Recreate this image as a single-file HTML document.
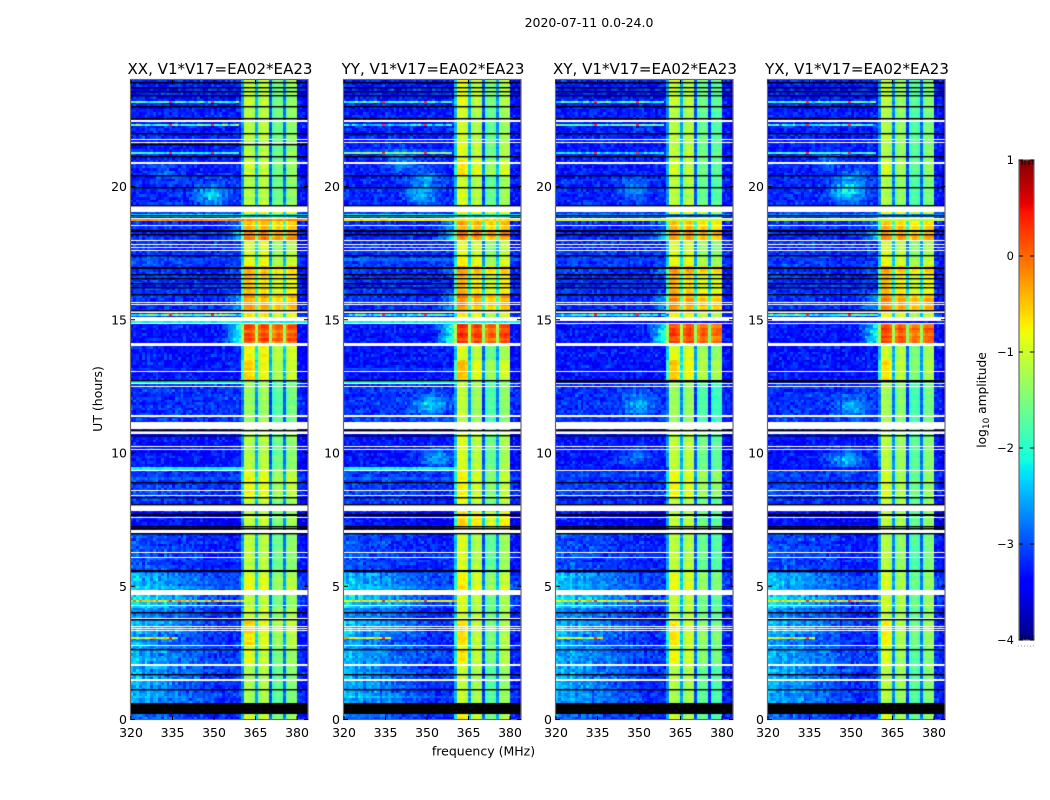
<!DOCTYPE html>
<html lang="en">
<head>
<meta charset="utf-8">
<title>2020-07-11 0.0-24.0</title>
<style>
html,body{margin:0;padding:0;background:#fff;}
#figure{position:relative;width:1050px;height:800px;overflow:hidden;background:#fff;font-family:"DejaVu Sans","Liberation Sans",sans-serif;}
#figure canvas{position:absolute;display:block;}
#overlay{position:absolute;left:0;top:0;}
#overlay text{font-family:"DejaVu Sans","Liberation Sans",sans-serif;fill:#000;}
</style>
</head>
<body>
<div id="figure">
<canvas id="heat0" width="177" height="640" style="left:131px;top:80px"></canvas>
<canvas id="heat1" width="177" height="640" style="left:344px;top:80px"></canvas>
<canvas id="heat2" width="177" height="640" style="left:556px;top:80px"></canvas>
<canvas id="heat3" width="177" height="640" style="left:768px;top:80px"></canvas>
<canvas id="cbar" width="15" height="480" style="left:1019px;top:160px"></canvas>
<svg id="overlay" width="1050" height="800" xmlns="http://www.w3.org/2000/svg">
<text x="589" y="27" font-size="12.5" text-anchor="middle">2020-07-11 0.0-24.0</text>
<text x="483.500" y="755.500" font-size="12.5" text-anchor="middle">frequency (MHz)</text>
<text x="0" y="0" font-size="12.5" text-anchor="middle" transform="translate(102,399) rotate(-90)">UT (hours)</text>
<text x="0" y="0" font-size="12.2" text-anchor="middle" transform="translate(986,400) rotate(-90)">log<tspan font-size="9" dy="3">10</tspan><tspan dy="-3"> amplitude</tspan></text>
</svg>
</div>
<script>
/* ---------- axes data ---------- */
const panelTitles = ["XX, V1*V17=EA02*EA23","YY, V1*V17=EA02*EA23","XY, V1*V17=EA02*EA23","YX, V1*V17=EA02*EA23"];
const freqTicks = [320,335,350,365,380];
const hourTicks = [0,5,10,15,20];
const colorbarTicks = [1,0,-1,-2,-3,-4];

/* ---------- time segments: log10 amplitude ---------- */
const segmentStartUT = [0,0.65,1.1,1.5,2.05,2.6,2.8,3.25,3.7,4.2,4.85,5.55,6.99,7.85,8.35,9.45,11.15,12.7,13.5,14.1,14.95,15.35,16.0,16.73,16.98,17.45,18.0,18.35,18.95,19.3,20.45,21.0,22.0,23.0];
const segmentBackground = [-3.2,-3.15,-3.2,-3.15,-3.1,-3.1,-3.2,-3.15,-3.2,-3.05,-3.05,-3.25,-3.45,-3.2,-3.15,-3.3,-3.15,-3.3,-3.3,-3.3,-3.15,-3.2,-3.2,-3.2,-3.15,-3.15,-3.2,-3.2,-3.05,-3.2,-3.25,-3.25,-3.25,-3.25];
const segmentLowFreqBoost = [0.4,0.7,0.75,0.75,0.65,0.6,0.65,0.8,0.6,0.9,0.7,0.3,0.15,0.1,0.1,0,0,0,0,0,0.05,0.1,0.1,0.1,0.1,0,0,0,0,0,0,0,0,0];
const segmentFirstBandExcess = [0.15,0,0,0,0.2,0,0.3,0.3,0,0,0.1,0.05,0,0,0.1,0,0,0.3,0,0,0,0.1,0.2,0.1,0,0,0,0,0,0,0.1,0,0,0.05];
const bandXX = [-1.05,-1.25,-1.2,-1.2,-1.1,-1.0,-0.95,-0.85,-1.0,-1.1,-0.95,-1.15,-1.05,-1.05,-0.9,-1.15,-1.3,-0.85,-0.8,0.15,-0.7,-0.35,-0.65,-0.45,-0.85,-0.95,-0.2,-0.45,-0.75,-1.15,-1.1,-1.15,-1.15,-1.1];
const bandYY = [-1.0,-1.15,-1.15,-1.15,-1.0,-1.0,-1.0,-1.0,-1.05,-1.05,-0.9,-1.1,-0.65,-1.0,-0.95,-1.05,-1.2,-0.85,-1.05,0.25,-0.8,-0.3,-0.65,-0.45,-0.85,-0.95,-0.15,-0.35,-0.8,-1.1,-0.85,-1.05,-1.1,-1.0];
const bandXY = [-1.2,-1.2,-1.2,-1.15,-1.0,-1.05,-0.95,-1.0,-1.1,-1.1,-0.95,-1.15,-1.1,-1.1,-0.9,-1.1,-1.3,-0.8,-0.9,0.2,-0.7,-0.3,-0.6,-0.4,-0.85,-0.95,-0.2,-0.45,-0.8,-1.15,-1.1,-1.1,-1.15,-1.1];
const bandYX = [-1.1,-1.15,-1.15,-1.15,-1.15,-1.1,-1.05,-1.05,-1.1,-1.05,-1.05,-1.2,-1.1,-1.1,-1.05,-1.15,-1.25,-0.95,-1.0,0.15,-0.8,-0.3,-0.65,-0.45,-0.85,-0.95,-0.2,-0.45,-0.8,-1.2,-1.1,-1.15,-1.2,-1.15];
const bandByPanel = [bandXX,bandYY,bandXY,bandYX];

/* ---------- per-panel sub-band gains (four sub-bands) ---------- */
const subbandGainXX = [0,0.05,-0.4,-0.25];
const subbandGainYY = [0.1,-0.05,-0.55,-0.2];
const subbandGainXY = [0,0,-0.45,-0.6];
const subbandGainYX = [0,-0.15,-0.55,-0.3];
const subbandGains = [subbandGainXX,subbandGainYY,subbandGainXY,subbandGainYX];

/* channel shape across the band, channels 40..59 (dips at sub-band joins) */
const bandShape = [-1.5,0,0.03,0,-0.12,-1.4,-0.25,0,0.03,-0.08,-1.4,-0.2,0,0.03,-0.08,-1.4,-0.2,0,0.03,0];

/* vertical striping seen at low frequencies in the early hours */
const lowFreqStripes = [1.05,0.85,1.1,0.95,0.7,1.1,1,0.65,0.95,1.1,0.8,1.05,1.15,0.75,1,0.9,1.1,0.7,1,1.05,0.85,1,0.75,1.1,0.9,1,0.8,1,0.9,1];

/* speckle texture of the raw amplitudes */
const speckleA = [0.12,-0.2,0.05,0.28,-0.11,-0.3,0.17,0.02,-0.06,0.24,-0.25,0.09,-0.15,0.31,-0.02,-0.18,0.14,0.07,-0.28,0.21,-0.09,0.03,0.26,-0.22,0.11,-0.04,-0.31,0.19,0.06,-0.13,0.29,-0.17,0.01,0.16,-0.24,0.08,-0.07,0.23,-0.12,-0.27,0.18];
const speckleB = [-0.1,0.15,0.04,-0.22,0.2,-0.05,0.11,-0.16,0.24,0.01,-0.19,0.07,0.17,-0.08,-0.26,0.13,0.03,-0.12,0.22,-0.03,0.09,-0.21,0.18,-0.14,0.06,0.25,-0.07,-0.18,0.1,0.02,-0.24,0.16,-0.01,0.12,-0.09,0.21,-0.15];
const rowJitter = [0.06,-0.1,0.02,0.12,-0.05,-0.14,0.09,0,-0.08,0.13,-0.03,0.07,-0.12,0.04,0.1,-0.06,-0.11,0.08,0.01];

/* narrow RFI rows: hour, last channel, thickness (hours), spike flag and level per product */
const rfiHours = [23.19,22.32,21.25,18.9,18.75,15.18,14.92,12.65,9.42,4.45,3.05];
const rfiChannels = [38,38,38,64,64,40,64,40,40,40,16];
const rfiThickness = [0.06,0.06,0.06,0.1,0.07,0.06,0.11,0.12,0.1,0.06,0.06];
const rfiHasSpikes = [1,1,1,0,0,1,0,0,0,1,1];
const rfiXX = [-1.9,-1.8,-2.2,-2.2,-0.2,-1.7,-2.15,-2.1,-2.15,-0.7,-0.9];
const rfiYY = [-1.9,-2.3,-1.8,-2.1,-0.7,-2.1,-2.15,-2.1,-2.15,-0.8,-0.8];
const rfiXY = [-1.9,-1.7,-2.2,-2.7,-1.0,-2.2,-3.3,-3.3,-3.3,-0.8,-1.0];
const rfiYX = [-1.8,-2.0,-1.8,-2.7,-1.1,-1.9,-3.3,-3.3,-3.3,-0.8,-1.0];
const rfiByPanel = [rfiXX,rfiYY,rfiXY,rfiYX];
const rfiSpikeChannels = [14,29];

/* diffuse emission patches */
const blobPanel = [0,0,1,1,1,1,1,2,2,2,3,3,3,3,3];
const blobHour = [19.7,20.5,19.7,20.3,21.0,11.8,9.8,19.9,11.8,9.8,19.8,20.4,21.0,11.7,9.7];
const blobFreq = [348.5,333,347.5,349,340,351,353,348,350,348,348,351,342,350,348];
const blobBoost = [0.9,0.3,0.7,0.55,0.6,0.85,0.65,0.5,0.6,0.4,1.1,0.4,0.4,0.65,0.9];

/* flagged data: white = no data, black = zeroed */
const whiteLines = [21.77,21.67,18.82,18.56,17.99,17.85,17.73,17.6,15.68,15.58,14.87,14.05,13.07,12.62,12.51,10.27,10.15,9.38,8.61,8.42,7.59,6.29,6.1,4.29,3.52,3.44,3.36];
const whiteLinesWide = [22.5,20.91,15.34,14.14,11.43,8.05,2.07];
const whiteBlockStart = [19.05,14.95,10.9,10.7,7.82,6.99,4.67,3.73,2.76,1.46];
const whiteBlockEnd = [19.28,15.09,11.16,10.86,8.0,7.11,4.86,3.79,2.81,1.51];
const blackLines = [23.93,23.75,23.6,23.43,23.02,22.56,22,21.15,20.43,20,19.3,18.93,18.2,17.43,16.73,16.57,16.38,16.23,15.97,15.37,12.74,10.68,10.88,8.93,8.35,8.09,7.26,7.17,6.99,4.02,3.76,2.63,1.72,1.13];
const blackBlockStart = [18.29,16.92,7.62,5.54,0.21];
const blackBlockEnd = [18.37,16.98,7.7,5.62,0.63];
const extraBlackXX = [21.59];
const extraBlackXY = [12.72,15.97];
const extraBlackYX = [12.72];
const extraBlack = [extraBlackXX,[],extraBlackXY,extraBlackYX];

/* ---------- scales ---------- */
const SCALE_X = 2.767, SCALE_Y = 26.65;
const panelLefts = [131,344,556,768];
const PANEL_TOP = 80, PANEL_W = 177, PANEL_H = 640;
function xScale(mhz){ return (mhz-320)*SCALE_X; }
function yScale(hour){ return 639.5-hour*SCALE_Y; }
function cbarScale(v){ return (1-v)*96; }

function ramp(x,pts){
  for(let i=1;i<pts.length;i++){
    if(x<=pts[i][0]){
      const a=pts[i-1],b=pts[i];
      return a[1]+(b[1]-a[1])*(x-a[0])/(b[0]-a[0]);
    }
  }
  return pts[pts.length-1][1];
}
const jetR=[[0,0],[0.35,0],[0.66,1],[0.89,1],[1,0.5]];
const jetG=[[0,0],[0.125,0],[0.375,1],[0.64,1],[0.91,0],[1,0]];
const jetB=[[0,0.5],[0.11,1],[0.34,1],[0.65,0],[1,0]];
function colorOf(v){
  const t=Math.max(0,Math.min(1,(v+4)/5));
  return "rgb("+Math.round(ramp(t,jetR)*255)+","+Math.round(ramp(t,jetG)*255)+","+Math.round(ramp(t,jetB)*255)+")";
}

function segmentOf(hour){
  let s=0;
  for(let i=0;i<segmentStartUT.length;i++){ if(hour>=segmentStartUT[i]) s=i; }
  return s;
}
function speckle(p,r,k){
  return speckleA[(k*17+r*r*5+p*11+k*r*3)%41]+speckleB[(k*k*3+r*11+p*7+k*r)%37];
}
function cellValue(p,r,k){
  const hour=(r+0.5)/10, s=segmentOf(hour);
  const band=bandByPanel[p][s];
  if(k>=40 && k<60){
    const sb=Math.floor((k-40)/5);
    const squeeze=Math.max(0.4,Math.min(1,-band/1.1));
    let v=band+subbandGains[p][sb]*squeeze+bandShape[k-40];
    if(sb===0) v+=segmentFirstBandExcess[s];
    v+=speckle(p,r,k)*0.2+rowJitter[(r+p*3)%19]*(band>-0.4?1.2:0.6);
    return v;
  }
  let v=segmentBackground[s]+speckle(p,r,k)*0.7+rowJitter[(r+p*5)%19]*0.4;
  if(k<30) v+=segmentLowFreqBoost[s]*(1-k/34)*lowFreqStripes[k];
  if(k>=33 && k<40) v+=Math.max(0,band+0.7)*1.4*(k-32)/7;
  if(k>=60) v-=0.05;
  const mhz=320+k;
  for(let b=0;b<blobPanel.length;b++){
    if(blobPanel[b]!==p) continue;
    const dx=(mhz-blobFreq[b])/5.5, dy=(hour-blobHour[b])/0.38;
    v+=blobBoost[b]*Math.exp(-(dx*dx+dy*dy));
  }
  return v;
}

/* ---------- heatmaps ---------- */
function channelLeft(k){ return Math.max(0,Math.round(xScale(320+k-0.1))); }
function drawHeat(p){
  const ctx=document.getElementById("heat"+p).getContext("2d");
  ctx.fillStyle="#0030ff";
  ctx.fillRect(0,0,PANEL_W,PANEL_H);
  for(let r=0;r<240;r++){
    const y0=Math.round(yScale((r+1)/10)), y1=Math.round(yScale(r/10));
    for(let k=0;k<65;k++){
      const x0=channelLeft(k);
      const x1=Math.min(PANEL_W,channelLeft(k+1));
      if(x1<=x0) continue;
      ctx.fillStyle=colorOf(cellValue(p,r,k));
      ctx.fillRect(x0,y0,x1-x0,y1-y0);
    }
  }
  rfiHours.forEach(function(h,i){
    const y=Math.round(yScale(h+rfiThickness[i]/2));
    const t=Math.round(rfiThickness[i]*SCALE_Y);
    for(let k=0;k<=rfiChannels[i];k++){
      let v=rfiByPanel[p][i]+speckle(p,Math.round(h*10),k)*(rfiHasSpikes[i]?1.5:0.35);
      if(rfiHasSpikes[i] && rfiSpikeChannels.indexOf(k)>=0) v=0.3;
      ctx.fillStyle=colorOf(v);
      ctx.fillRect(channelLeft(k),y,channelLeft(k+1)-channelLeft(k),t);
    }
  });
  const span=function(h0,h1,col){
    const y=Math.round(yScale(h1));
    ctx.fillStyle=col;
    ctx.fillRect(0,y,PANEL_W,Math.round(yScale(h0))-y);
  };
  const thin=function(h,col,px){
    ctx.fillStyle=col;
    ctx.fillRect(0,Math.round(yScale(h)),PANEL_W,px);
  };
  whiteLines.forEach(function(h){ thin(h,"#fff",1); });
  whiteLinesWide.forEach(function(h){ thin(h,"#fff",2); });
  whiteBlockStart.forEach(function(h,i){ span(h,whiteBlockEnd[i],"#fff"); });
  blackLines.forEach(function(h){ thin(h,"#000",1.4); });
  extraBlack[p].forEach(function(h){ thin(h,"#000",1.4); });
  blackBlockStart.forEach(function(h,i){ span(h,blackBlockEnd[i],"#000"); });
}
for(let p=0;p<4;p++){ drawHeat(p); }

/* ---------- axes overlay ---------- */
const svg=document.getElementById("overlay");
const NS="http://www.w3.org/2000/svg";
function line(x1,y1,x2,y2,stroke,w){
  const el=document.createElementNS(NS,"line");
  el.setAttribute("x1",x1);
  el.setAttribute("y1",y1);
  el.setAttribute("x2",x2);
  el.setAttribute("y2",y2);
  el.setAttribute("stroke",stroke);
  el.setAttribute("stroke-width",w);
  svg.appendChild(el);
  return el;
}
function label(x,y,size,anchor,str){
  const el=document.createElementNS(NS,"text");
  el.setAttribute("x",x);
  el.setAttribute("y",y);
  el.setAttribute("font-size",size);
  el.setAttribute("text-anchor",anchor);
  el.textContent=str;
  svg.appendChild(el);
  return el;
}
panelLefts.forEach(function(left,p){
  const frame=document.createElementNS(NS,"rect");
  frame.setAttribute("x",left-0.5);
  frame.setAttribute("y",PANEL_TOP-0.5);
  frame.setAttribute("width",PANEL_W+0.5);
  frame.setAttribute("height",PANEL_H);
  frame.setAttribute("fill","none");
  frame.setAttribute("stroke","#6a6a6a");
  frame.setAttribute("stroke-width","1.2");
  
  
  svg.appendChild(frame);
  const t=label(left+PANEL_W/2+0.5,74,15.05,"middle",panelTitles[p]);
  
  
  freqTicks.forEach(function(f){
    const x=left+xScale(f);
    const tb=line(x,PANEL_TOP+PANEL_H,x,PANEL_TOP+PANEL_H-4,"#000",1);
    
    
    const tt=line(x,PANEL_TOP,x,PANEL_TOP+4,"#000",1);
    
    
    const l=label(x,737,12.5,"middle",String(f));
    
    
  });
  hourTicks.forEach(function(h){
    const y=PANEL_TOP+yScale(h);
    const tl=line(left,y,left+4,y,"#000",1);
    
    
    const tr=line(left+PANEL_W,y,left+PANEL_W-4,y,"#000",1);
    
    
    const l=label(left-4,y+4.5,12.5,"end",String(h));
    
    
  });
});

/* ---------- colorbar ---------- */
(function(){
  const ctx=document.getElementById("cbar").getContext("2d");
  for(let y=0;y<480;y++){
    ctx.fillStyle=colorOf(1-(y+0.5)/96);
    ctx.fillRect(0,y,15,1);
  }
  const frame=document.createElementNS(NS,"rect");
  frame.setAttribute("x",1019);
  frame.setAttribute("y",160);
  frame.setAttribute("width",15);
  frame.setAttribute("height",480);
  frame.setAttribute("fill","none");
  frame.setAttribute("stroke","#6a6a6a");
  frame.setAttribute("stroke-width","1.2");
  
  
  svg.appendChild(frame);
  colorbarTicks.forEach(function(v){
    const y=160+cbarScale(v);
    const a=line(1019,y,1023,y,"#000",1);
    
    
    const b=line(1030,y,1034,y,"#000",1);
    
    
    const l=label(1014,y+4,11.5,"end",String(v).replace("-","\u2212"));
    
    
  });
  [1022,1025,1029,1033].forEach(function(x){
    const a=line(x,160,x,165,"#000",0.8);
    
    
    const b=line(x,640,x,635,"#000",0.8);
    
    
  });
  const dots=line(1018,646,1035,646,"#999",1);
  dots.setAttribute("stroke-dasharray","1 2");
  
  
})();
</script>
</body>
</html>
